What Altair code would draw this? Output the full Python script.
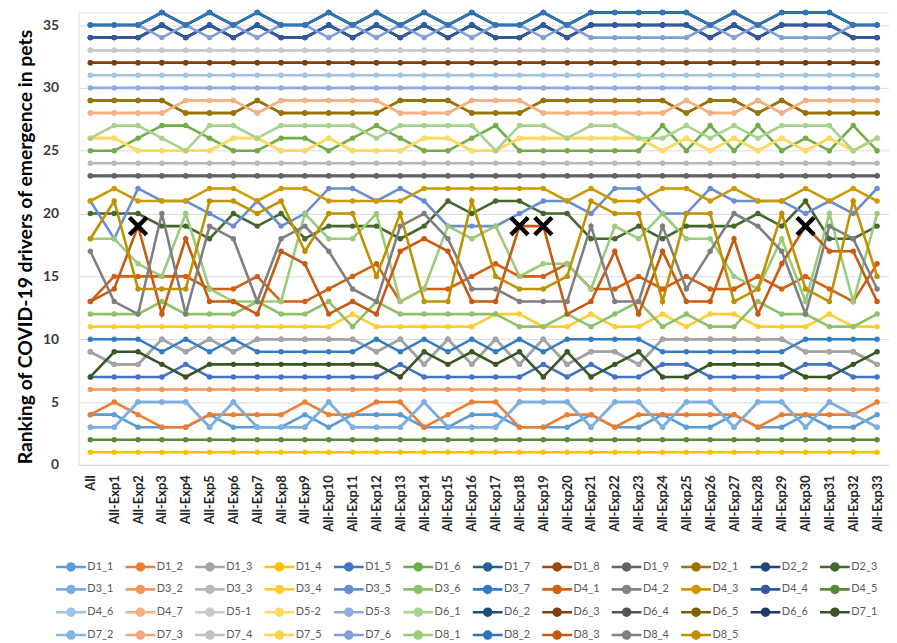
import altair as alt
import pandas as pd

categories = ["All"] + [f"All-Exp{i}" for i in range(1, 34)]

legend_order = ["D1_1", "D1_2", "D1_3", "D1_4", "D1_5", "D1_6", "D1_7", "D1_8", "D1_9", "D2_1", "D2_2", "D2_3",
                "D3_1", "D3_2", "D3_3", "D3_4", "D3_5", "D3_6", "D3_7", "D4_1", "D4_2", "D4_3", "D4_4", "D4_5",
                "D4_6", "D4_7", "D5-1", "D5-2", "D5-3", "D6_1", "D6_2", "D6_3", "D6_4", "D6_5", "D6_6", "D7_1",
                "D7_2", "D7_3", "D7_4", "D7_5", "D7_6", "D8_1", "D8_2", "D8_3", "D8_4", "D8_5"]

colors = ["#5B9BD5", "#ED7D31", "#A5A5A5", "#FFC000", "#4472C4", "#70AD47", "#255E91", "#9E480E", "#636363", "#997300", "#264478", "#43682B",
          "#7CAFDD", "#F1975A", "#B7B7B7", "#FFCD33", "#698ED0", "#8CC168", "#327DC2", "#D26012", "#848484", "#CC9A00", "#335AA1", "#5A8A39",
          "#9DC3E6", "#F4B183", "#C9C9C9", "#FFD966", "#8FAADC", "#A9D18E", "#1F4E79", "#843C0C", "#525252", "#7F6000", "#203864", "#375623",
          "#86B3DF", "#F3A87C", "#BFBFBF", "#FFD24D", "#7F9FD9", "#9ACB7B", "#2E75B6", "#C55A11", "#7F7F7F", "#BF9000"]

# ranks per series, one value per category (All, All-Exp1 ... All-Exp33)
D1_1 = [4, 4, 3, 3, 3, 4, 3, 3, 3, 4, 3, 4, 4, 4, 3, 3, 4, 4, 3, 3, 3, 4, 3, 3, 4, 3, 3, 4, 3, 3, 4, 3, 3, 4]
D1_2 = [4, 5, 4, 3, 3, 4, 4, 4, 4, 5, 4, 4, 5, 5, 3, 4, 5, 5, 3, 3, 4, 4, 3, 4, 4, 4, 4, 4, 3, 4, 4, 4, 4, 5]
D1_3 = [9, 8, 8, 10, 9, 10, 9, 10, 10, 10, 10, 10, 9, 10, 8, 10, 8, 10, 8, 10, 8, 9, 9, 8, 10, 10, 10, 10, 10, 10, 9, 9, 9, 8]
D1_4 = [1, 1, 1, 1, 1, 1, 1, 1, 1, 1, 1, 1, 1, 1, 1, 1, 1, 1, 1, 1, 1, 1, 1, 1, 1, 1, 1, 1, 1, 1, 1, 1, 1, 1]
D1_5 = [7, 7, 7, 7, 8, 7, 7, 7, 7, 7, 7, 7, 7, 8, 7, 7, 7, 7, 7, 8, 7, 8, 7, 7, 8, 8, 7, 7, 7, 7, 8, 8, 7, 7]
D1_6 = [25, 25, 26, 27, 27, 26, 25, 25, 26, 26, 25, 26, 27, 26, 25, 25, 26, 27, 25, 25, 25, 25, 25, 25, 27, 25, 27, 25, 27, 25, 26, 25, 27, 25]
D1_7 = [35, 35, 35, 36, 35, 36, 35, 36, 35, 35, 36, 35, 36, 35, 36, 35, 36, 35, 35, 36, 35, 36, 36, 36, 36, 36, 35, 36, 35, 36, 36, 36, 35, 35]
D1_8 = [32, 32, 32, 32, 32, 32, 32, 32, 32, 32, 32, 32, 32, 32, 32, 32, 32, 32, 32, 32, 32, 32, 32, 32, 32, 32, 32, 32, 32, 32, 32, 32, 32, 32]
D1_9 = [23, 23, 23, 23, 23, 23, 23, 23, 23, 23, 23, 23, 23, 23, 23, 23, 23, 23, 23, 23, 23, 23, 23, 23, 23, 23, 23, 23, 23, 23, 23, 23, 23, 23]
D2_1 = [29, 29, 29, 29, 28, 28, 28, 29, 28, 28, 28, 28, 28, 29, 29, 29, 28, 28, 28, 29, 29, 29, 29, 29, 29, 28, 29, 29, 28, 29, 28, 28, 28, 28]
D2_2 = [34, 34, 34, 35, 34, 35, 34, 35, 34, 34, 35, 34, 35, 34, 35, 34, 35, 34, 34, 35, 34, 35, 35, 35, 35, 35, 34, 35, 34, 35, 35, 35, 34, 34]
D2_3 = [20, 20, 20, 19, 19, 18, 20, 19, 20, 18, 19, 19, 19, 18, 19, 21, 20, 21, 21, 20, 20, 18, 18, 19, 18, 19, 19, 19, 20, 19, 21, 18, 18, 19]
D3_1 = [3, 3, 5, 5, 5, 3, 5, 3, 3, 3, 5, 3, 3, 3, 5, 3, 3, 3, 5, 5, 5, 3, 5, 5, 3, 5, 5, 3, 5, 5, 3, 5, 4, 3]
D3_2 = [6, 6, 6, 6, 6, 6, 6, 6, 6, 6, 6, 6, 6, 6, 6, 6, 6, 6, 6, 6, 6, 6, 6, 6, 6, 6, 6, 6, 6, 6, 6, 6, 6, 6]
D3_3 = [24, 24, 24, 24, 24, 24, 24, 24, 24, 24, 24, 24, 24, 24, 24, 24, 24, 24, 24, 24, 24, 24, 24, 24, 24, 24, 24, 24, 24, 24, 24, 24, 24, 24]
D3_4 = [11, 11, 11, 11, 11, 11, 11, 11, 11, 11, 11, 12, 11, 11, 11, 11, 11, 12, 12, 11, 11, 12, 11, 11, 12, 11, 12, 12, 11, 11, 11, 12, 11, 11]
D3_5 = [21, 18, 22, 21, 21, 20, 19, 21, 19, 20, 22, 22, 21, 22, 21, 19, 19, 19, 20, 21, 21, 20, 22, 22, 20, 20, 22, 21, 21, 21, 20, 21, 20, 22]
D3_6 = [12, 12, 12, 13, 12, 12, 12, 13, 12, 12, 13, 11, 13, 12, 12, 12, 12, 12, 11, 11, 12, 11, 12, 13, 11, 12, 11, 11, 13, 12, 12, 11, 11, 12]
D3_7 = [10, 10, 10, 9, 10, 9, 10, 9, 9, 9, 9, 9, 10, 9, 10, 9, 10, 9, 10, 9, 10, 10, 10, 10, 9, 9, 9, 9, 9, 9, 10, 10, 10, 10]
D4_1 = [13, 15, 15, 15, 15, 14, 14, 15, 13, 13, 14, 15, 16, 13, 14, 14, 15, 16, 15, 15, 16, 14, 14, 15, 14, 15, 14, 14, 15, 14, 15, 14, 13, 16]
D4_2 = [9, 8, 8, 10, 9, 10, 9, 10, 10, 10, 10, 10, 9, 10, 8, 10, 8, 10, 8, 10, 8, 9, 9, 8, 10, 10, 10, 10, 10, 10, 9, 9, 9, 8]
D4_3 = [21, 22, 21, 21, 21, 22, 22, 21, 22, 22, 21, 21, 21, 21, 22, 22, 22, 22, 22, 22, 21, 22, 21, 21, 22, 22, 21, 22, 21, 21, 22, 21, 22, 21]
D4_4 = [34, 34, 34, 35, 34, 35, 34, 35, 34, 34, 35, 34, 35, 34, 35, 34, 35, 34, 34, 35, 34, 35, 35, 35, 35, 35, 34, 35, 34, 35, 35, 35, 34, 34]
D4_5 = [2, 2, 2, 2, 2, 2, 2, 2, 2, 2, 2, 2, 2, 2, 2, 2, 2, 2, 2, 2, 2, 2, 2, 2, 2, 2, 2, 2, 2, 2, 2, 2, 2, 2]
D4_6 = [31, 31, 31, 31, 31, 31, 31, 31, 31, 31, 31, 31, 31, 31, 31, 31, 31, 31, 31, 31, 31, 31, 31, 31, 31, 31, 31, 31, 31, 31, 31, 31, 31, 31]
D4_7 = [28, 28, 28, 28, 29, 29, 29, 28, 29, 29, 29, 29, 29, 28, 28, 28, 29, 29, 29, 28, 28, 28, 28, 28, 28, 29, 28, 28, 29, 28, 29, 29, 29, 29]
D5_1 = [33, 33, 33, 33, 33, 33, 33, 33, 33, 33, 33, 33, 33, 33, 33, 33, 33, 33, 33, 33, 33, 33, 33, 33, 33, 33, 33, 33, 33, 33, 33, 33, 33, 33]
D5_2 = [26, 26, 25, 25, 25, 25, 26, 26, 25, 25, 26, 25, 25, 25, 26, 26, 25, 25, 26, 26, 26, 26, 26, 26, 25, 26, 25, 26, 25, 26, 25, 26, 25, 26]
D5_3 = [30, 30, 30, 30, 30, 30, 30, 30, 30, 30, 30, 30, 30, 30, 30, 30, 30, 30, 30, 30, 30, 30, 30, 30, 30, 30, 30, 30, 30, 30, 30, 30, 30, 30]
D6_1 = [26, 27, 27, 26, 25, 27, 27, 26, 27, 27, 27, 27, 26, 27, 27, 27, 27, 25, 27, 27, 26, 27, 27, 26, 26, 27, 26, 27, 26, 27, 27, 27, 25, 26]
D6_2 = [35, 35, 35, 36, 35, 36, 35, 36, 35, 35, 36, 35, 36, 35, 36, 35, 36, 35, 35, 36, 35, 36, 36, 36, 36, 36, 35, 36, 35, 36, 36, 36, 35, 35]
D6_3 = [32, 32, 32, 32, 32, 32, 32, 32, 32, 32, 32, 32, 32, 32, 32, 32, 32, 32, 32, 32, 32, 32, 32, 32, 32, 32, 32, 32, 32, 32, 32, 32, 32, 32]
D6_4 = [23, 23, 23, 23, 23, 23, 23, 23, 23, 23, 23, 23, 23, 23, 23, 23, 23, 23, 23, 23, 23, 23, 23, 23, 23, 23, 23, 23, 23, 23, 23, 23, 23, 23]
D6_5 = [29, 29, 29, 29, 28, 28, 28, 29, 28, 28, 28, 28, 28, 29, 29, 29, 28, 28, 28, 29, 29, 29, 29, 29, 29, 28, 29, 29, 28, 29, 28, 28, 28, 28]
D6_6 = [34, 34, 34, 35, 34, 35, 34, 35, 34, 34, 35, 34, 35, 34, 35, 34, 35, 34, 34, 35, 34, 35, 35, 35, 35, 35, 34, 35, 34, 35, 35, 35, 34, 34]
D7_1 = [7, 9, 9, 8, 7, 8, 8, 8, 8, 8, 8, 8, 8, 7, 9, 8, 9, 8, 9, 7, 9, 7, 8, 9, 7, 7, 8, 8, 8, 8, 7, 7, 8, 9]
D7_2 = [3, 3, 5, 5, 5, 3, 5, 3, 3, 3, 5, 3, 3, 3, 5, 3, 3, 3, 5, 5, 5, 3, 5, 5, 3, 5, 5, 3, 5, 5, 3, 5, 4, 3]
D7_3 = [28, 28, 28, 28, 29, 29, 29, 28, 29, 29, 29, 29, 29, 28, 28, 28, 29, 29, 29, 28, 28, 28, 28, 28, 28, 29, 28, 28, 29, 28, 29, 29, 29, 29]
D7_4 = [33, 33, 33, 33, 33, 33, 33, 33, 33, 33, 33, 33, 33, 33, 33, 33, 33, 33, 33, 33, 33, 33, 33, 33, 33, 33, 33, 33, 33, 33, 33, 33, 33, 33]
D7_5 = [26, 26, 25, 25, 25, 25, 26, 26, 25, 25, 26, 25, 25, 25, 26, 26, 25, 25, 26, 26, 26, 26, 26, 26, 25, 26, 25, 26, 25, 26, 25, 26, 25, 26]
D7_6 = [35, 35, 35, 34, 35, 34, 35, 34, 35, 35, 34, 35, 34, 35, 34, 35, 34, 35, 35, 34, 35, 34, 34, 34, 34, 34, 35, 34, 35, 34, 34, 34, 35, 35]
D8_1 = [18, 18, 16, 15, 20, 14, 13, 13, 13, 20, 18, 18, 20, 13, 14, 19, 18, 19, 15, 16, 16, 14, 19, 18, 20, 18, 18, 15, 14, 18, 13, 20, 13, 20]
D8_2 = [35, 35, 35, 36, 35, 36, 35, 36, 35, 35, 36, 35, 36, 35, 36, 35, 36, 35, 35, 36, 35, 36, 36, 36, 36, 36, 35, 36, 35, 36, 36, 36, 35, 35]
D8_3 = [13, 14, 19, 12, 18, 13, 13, 12, 17, 16, 12, 13, 12, 17, 18, 17, 13, 13, 19, 19, 12, 13, 17, 12, 17, 13, 13, 18, 12, 16, 19, 17, 17, 13]
D8_4 = [17, 13, 12, 20, 12, 19, 18, 13, 18, 19, 17, 14, 13, 19, 20, 18, 14, 14, 13, 13, 13, 19, 13, 13, 19, 14, 17, 20, 19, 17, 12, 19, 18, 14]
D8_5 = [18, 21, 14, 14, 14, 21, 21, 20, 21, 17, 20, 20, 15, 20, 13, 13, 21, 15, 14, 14, 15, 21, 20, 20, 13, 20, 20, 13, 14, 20, 14, 13, 21, 15]

series = {
    "D1_1": D1_1, "D1_2": D1_2, "D1_3": D1_3, "D1_4": D1_4, "D1_5": D1_5, "D1_6": D1_6, "D1_7": D1_7,
    "D1_8": D1_8, "D1_9": D1_9, "D2_1": D2_1, "D2_2": D2_2, "D2_3": D2_3, "D3_1": D3_1, "D3_2": D3_2,
    "D3_3": D3_3, "D3_4": D3_4, "D3_5": D3_5, "D3_6": D3_6, "D3_7": D3_7, "D4_1": D4_1, "D4_2": D4_2,
    "D4_3": D4_3, "D4_4": D4_4, "D4_5": D4_5, "D4_6": D4_6, "D4_7": D4_7, "D5-1": D5_1, "D5-2": D5_2,
    "D5-3": D5_3, "D6_1": D6_1, "D6_2": D6_2, "D6_3": D6_3, "D6_4": D6_4, "D6_5": D6_5, "D6_6": D6_6,
    "D7_1": D7_1, "D7_2": D7_2, "D7_3": D7_3, "D7_4": D7_4, "D7_5": D7_5, "D7_6": D7_6, "D8_1": D8_1,
    "D8_2": D8_2, "D8_3": D8_3, "D8_4": D8_4, "D8_5": D8_5,
}

# series that are tied with (and hidden under) another series are drawn first
tied_under = ["D1_7", "D1_8", "D2_2", "D4_2", "D6_2", "D6_4", "D6_5", "D6_6", "D7_2", "D7_3", "D7_4", "D7_5"]

# black cross markers
cross_cats = ["All-Exp2", "All-Exp18", "All-Exp19", "All-Exp30"]
cross_ranks = [19, 19, 19, 19]

draw_order = tied_under + [s for s in legend_order if s not in tied_under]
rows = []
for s in draw_order:
    for c, v in zip(categories, series[s]):
        rows.append({"series": s, "cat": c, "rank": v})
df = pd.DataFrame(rows)
cross_df = pd.DataFrame({"cat": cross_cats, "rank": cross_ranks})

FONT = "Lato"
sym_path = "M-1.5,0L1.5,0M-0.35,0A0.35,0.35,0,1,1,0.35,0A0.35,0.35,0,1,1,-0.35,0Z"

legend = alt.Legend(
    title=None, orient="none", legendX=-19, legendY=547, direction="horizontal", columns=12,
    symbolType=sym_path, symbolSize=400, symbolStrokeWidth=2.6, symbolLimit=0,
    labelFont=FONT, labelFontSize=11, labelColor="#595959", labelOffset=5, labelLimit=60,
    rowPadding=2, columnPadding=6, gridAlign="all", padding=0,
)

x_enc = alt.X("cat:N", sort=categories, scale=alt.Scale(domain=categories),
              axis=alt.Axis(title=None, labelAngle=-90, labelFont=FONT, labelFontSize=13, labelFontWeight="bold",
                            labelColor="#262626", labelPadding=10, ticks=False, domainColor="#D9D9D9",
                            domainWidth=1, grid=False, labelOverlap=False))
y_enc = alt.Y("rank:Q", scale=alt.Scale(domain=[0, 36], nice=False),
              axis=alt.Axis(title="Ranking of COVID-19 drivers of emergence in pets", values=[0, 5, 10, 15, 20, 25, 30, 35],
                            titleFont=FONT, titleFontSize=19.5, titleFontWeight="bold", titleColor="#000000",
                            titlePadding=7, titleY=236, labelFont=FONT, labelFontSize=14, labelFontWeight="bold",
                            labelColor="#3A3A3A", labelPadding=20, ticks=False, domain=False,
                            gridColor="#D9D9D9", gridWidth=1))

base = alt.Chart(df)
lines = base.mark_line(strokeWidth=2.6).encode(
    x=x_enc, y=y_enc,
    stroke=alt.Stroke("series:N", scale=alt.Scale(domain=legend_order, range=colors), legend=legend),
)
points = base.mark_point(filled=True, size=30, opacity=1, strokeWidth=0).encode(
    x=x_enc, y=y_enc,
    fill=alt.Fill("series:N", scale=alt.Scale(domain=legend_order, range=colors), legend=legend),
)
crosses = alt.Chart(cross_df).mark_point(shape="M-1,-1L1,1M-1,1L1,-1", filled=False, size=300,
                                         strokeWidth=4.5, color="#000000", opacity=1).encode(
    x=alt.X("cat:N", sort=categories, scale=alt.Scale(domain=categories)),
    y=alt.Y("rank:Q", scale=alt.Scale(domain=[0, 36], nice=False)),
)

chart = alt.layer(lines, points, crosses).properties(
    width=817, height=456,
    autosize=alt.AutoSizeParams(type="none"),
    padding={"left": 71, "top": 2, "right": 0, "bottom": 177},
).configure_view(strokeWidth=0).configure(font=FONT)

chart.save("out.html", embed_options={"renderer": "svg", "actions": False})
